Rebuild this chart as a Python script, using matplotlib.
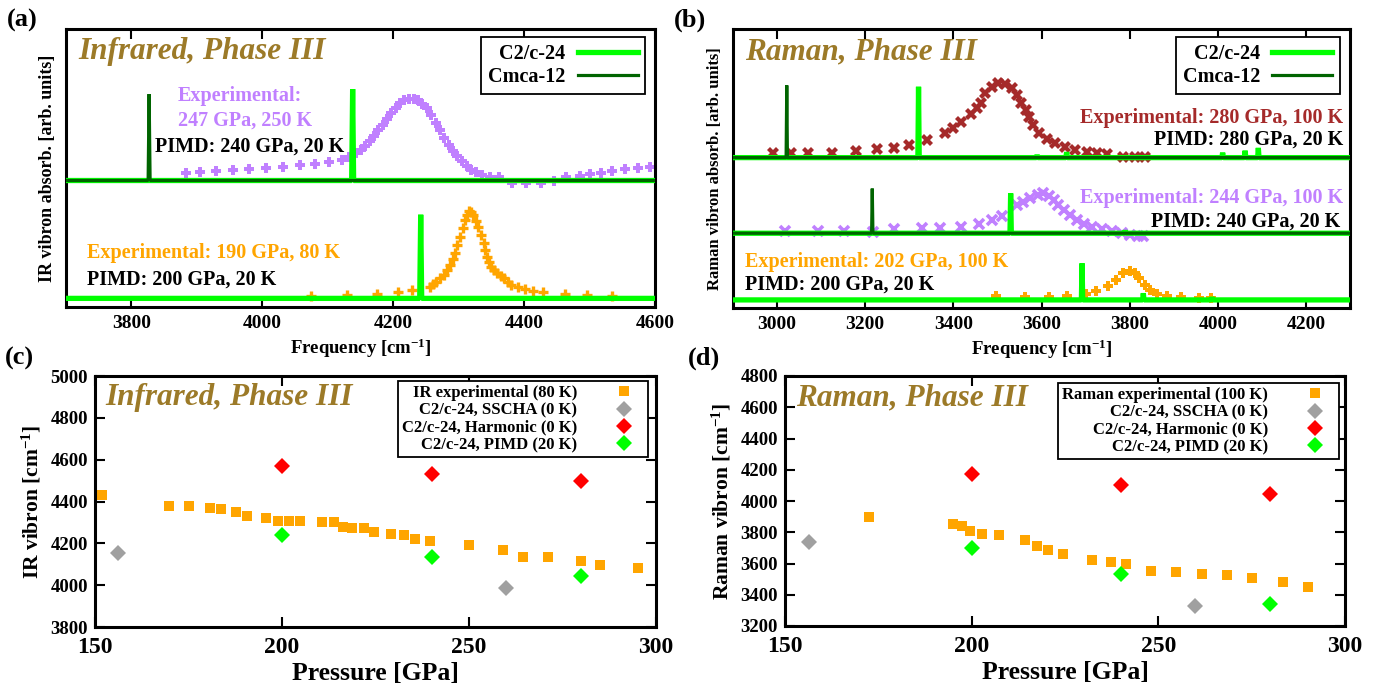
import numpy as np
import matplotlib
matplotlib.use("Agg")
import matplotlib.pyplot as plt

plt.rcParams['font.family'] = ['Liberation Serif', 'DejaVu Serif']
plt.rcParams['font.weight'] = 'bold'
plt.rcParams['axes.labelweight'] = 'bold'
plt.rcParams['mathtext.fontset'] = 'custom'
plt.rcParams['mathtext.rm'] = 'Liberation Serif:bold'
plt.rcParams['mathtext.it'] = 'Liberation Serif:italic:bold'
plt.rcParams['mathtext.default'] = 'rm'

# ---------------- data: spectra (a) IR, (b) Raman ----------------
# peak positions [cm-1] and heights above baseline [arb. units]
a_top_base = 0.455
a_top_c2c_f = [4138]
a_top_c2c_h = [0.329]
a_top_cmca_f = [3827]
a_top_cmca_h = [0.311]
a_bot_base = 0.031
a_bot_c2c_f = [4242]
a_bot_c2c_h = [0.301]

# experimental IR, 247 GPa 250 K
a_exp247_f = [3884, 3904, 3929, 3955, 3980, 4006, 4032, 4057, 4081, 4102, 4121, 4132,
              4143, 4150, 4157, 4164, 4170, 4177, 4184, 4190, 4197, 4204, 4211, 4217,
              4224, 4231, 4238, 4244, 4251, 4258, 4265, 4271, 4278, 4285, 4292, 4298,
              4305, 4312, 4319, 4327, 4336, 4348, 4362, 4382, 4403, 4426, 4445, 4464,
              4485, 4500, 4518, 4535, 4554, 4574, 4593]
a_exp247_y = [0.481, 0.484, 0.489, 0.493, 0.496, 0.500, 0.505, 0.510, 0.516, 0.520, 0.528, 0.540,
              0.554, 0.566, 0.578, 0.596, 0.614, 0.635, 0.656, 0.677, 0.698, 0.716, 0.734, 0.743,
              0.748, 0.747, 0.743, 0.732, 0.716, 0.690, 0.662, 0.635, 0.608, 0.583, 0.560, 0.542,
              0.524, 0.508, 0.494, 0.484, 0.476, 0.468, 0.466, 0.447, 0.445, 0.447, 0.454, 0.466,
              0.472, 0.477, 0.483, 0.490, 0.496, 0.500, 0.502]
# experimental IR, 190 GPa 80 K
a_exp190_f = [4075, 4130, 4175, 4207, 4229, 4256, 4261, 4266, 4271, 4277, 4282, 4287, 4291,
              4294, 4298, 4302, 4306, 4310, 4313, 4316, 4319, 4322, 4326, 4330, 4334, 4338,
              4341, 4344, 4347, 4350, 4354, 4358, 4364, 4369, 4375, 4380, 4391, 4402, 4414,
              4429, 4462, 4496, 4534]
a_exp190_y = [0.040, 0.042, 0.047, 0.054, 0.061, 0.073, 0.082, 0.091, 0.103, 0.115, 0.133, 0.151, 0.172,
              0.193, 0.223, 0.253, 0.283, 0.313, 0.330, 0.346, 0.340, 0.331, 0.310, 0.289, 0.259, 0.229,
              0.205, 0.181, 0.163, 0.145, 0.133, 0.121, 0.112, 0.103, 0.091, 0.079, 0.071, 0.064, 0.059,
              0.054, 0.047, 0.043, 0.041]

b_top_base = 0.539
b_top_c2c_f = [3321, 3590, 3657, 4011, 4062, 4092]
b_top_c2c_h = [0.254, 0.010, 0.020, 0.018, 0.025, 0.035]
b_top_cmca_f = [3022]
b_top_cmca_h = [0.259]
b_mid_base = 0.268
b_mid_c2c_f = [3530, 3790]
b_mid_c2c_h = [0.143, 0.010]
b_mid_cmca_f = [3216]
b_mid_cmca_h = [0.160]
b_bot_base = 0.029
b_bot_c2c_f = [3692, 3831, 3987]
b_bot_c2c_h = [0.131, 0.024, 0.010]

# experimental Raman, 280 GPa 100 K
b_exp280_f = [2990, 3032, 3071, 3125, 3178, 3226, 3266, 3300, 3340, 3381, 3400, 3417, 3439,
              3454, 3462, 3472, 3487, 3502, 3517, 3532, 3545, 3553, 3564, 3572, 3581, 3594,
              3612, 3631, 3653, 3676, 3703, 3725, 3748, 3786, 3812, 3835]
b_exp280_y = [0.554, 0.557, 0.557, 0.557, 0.563, 0.569, 0.573, 0.583, 0.602, 0.626, 0.644, 0.668, 0.694,
              0.716, 0.736, 0.769, 0.793, 0.805, 0.803, 0.787, 0.763, 0.736, 0.710, 0.686, 0.655, 0.627,
              0.607, 0.593, 0.578, 0.566, 0.560, 0.554, 0.552, 0.542, 0.542, 0.542]
# experimental Raman, 244 GPa 100 K
b_exp244_f = [3019, 3092, 3152, 3218, 3266, 3328, 3369, 3418, 3459, 3487, 3510, 3544, 3559,
              3575, 3591, 3604, 3616, 3629, 3638, 3651, 3665, 3681, 3696, 3714, 3737, 3759,
              3782, 3800, 3818, 3831]
b_exp244_y = [0.277, 0.277, 0.277, 0.274, 0.282, 0.286, 0.287, 0.289, 0.300, 0.315, 0.331, 0.369, 0.381,
              0.395, 0.405, 0.411, 0.401, 0.387, 0.369, 0.351, 0.333, 0.315, 0.300, 0.289, 0.282, 0.276,
              0.268, 0.262, 0.258, 0.258]
# experimental Raman, 202 GPa 100 K
b_exp202_f = [3496, 3562, 3618, 3658, 3701, 3723, 3750, 3768, 3784, 3800, 3813, 3822, 3835,
              3846, 3862, 3885, 3916, 3957, 3984]
b_exp202_y = [0.043, 0.041, 0.041, 0.044, 0.050, 0.062, 0.080, 0.100, 0.124, 0.134, 0.124, 0.106, 0.082,
              0.065, 0.050, 0.043, 0.038, 0.037, 0.036]

# ---------------- data: vibron vs pressure (c) IR, (d) Raman ----------------
ir_exp_p = [152.0, 169.8, 175.1, 180.7, 183.8, 187.6, 190.7, 195.8, 198.8, 201.9, 204.9, 210.6,
            214.0, 216.2, 218.8, 221.9, 224.5, 229.2, 232.6, 235.6, 239.6, 250.0, 259.1, 264.4,
            271.2, 279.9, 285.1, 295.1]
ir_exp_f = [4430, 4379, 4379, 4367, 4362, 4351, 4333, 4322, 4309, 4309, 4305, 4300,
            4300, 4277, 4271, 4271, 4255, 4246, 4239, 4222, 4211, 4193, 4166, 4136,
            4136, 4114, 4096, 4080]
ir_sscha_p = [156.1, 259.8]
ir_sscha_f = [4153, 3986]
ir_harm_p = [200, 240, 280]
ir_harm_f = [4570, 4530, 4500]
ir_pimd_p = [200, 240, 280]
ir_pimd_f = [4242, 4137, 4042]

ra_exp_p = [172.4, 195.0, 197.3, 199.5, 202.8, 207.4, 214.2, 217.6, 220.5, 224.5, 232.2, 237.4,
            241.4, 248.1, 254.8, 261.7, 268.4, 275.2, 283.3, 290.0]
ra_exp_f = [3897, 3851, 3838, 3810, 3789, 3780, 3752, 3712, 3688, 3659, 3624, 3612,
            3595, 3554, 3543, 3533, 3524, 3505, 3482, 3452]
ra_sscha_p = [156.5, 259.8]
ra_sscha_f = [3740, 3326]
ra_harm_p = [200, 240, 280]
ra_harm_f = [4175, 4100, 4043]
ra_pimd_p = [200, 240, 280]
ra_pimd_f = [3701, 3531, 3341]

# ---------------- style ----------------
W, H = 1382, 688
GREEN = '#00FF00'
DKGREEN = '#006400'
ORANGE = '#FFA500'
PURPLE = '#C080FF'
BROWN = '#A52A2A'
GRAY = '#A0A0A0'
RED = '#FF0000'
GOLD = '#9C7A28'


def box(l, t, r, b):
    return [l / W, 1 - b / H, (r - l) / W, (b - t) / H]


def ftext(x, y, s, **kw):
    fig.text(x / W, 1 - y / H, s, va='center', **kw)


def spectrum(ax, lo, hi, base, pf, ph, color, lw, label=None):
    f, y = [lo], [base]
    for p, h in sorted(zip(pf, ph)):
        f += [p - 1.5, p, p + 1.5]
        y += [base, base + h, base]
    f.append(hi)
    y.append(base)
    ax.plot(f, y, color=color, lw=lw, solid_joinstyle='bevel', label=label, zorder=3)


def frame(ax, lw=2.2):
    for s in ax.spines.values():
        s.set_linewidth(lw)
    ax.tick_params(direction='in', top=True, right=True, width=1.5, length=7)


def bold_ticks(ax):
    for t in ax.get_xticklabels() + ax.get_yticklabels():
        t.set_fontweight('bold')


def legend(ax, anchor, fs, hl, ls, bp, htp):
    leg = ax.legend(loc='upper right', bbox_to_anchor=anchor, borderaxespad=0,
                    markerfirst=False, fancybox=False, edgecolor='black', framealpha=1,
                    fontsize=fs, handlelength=hl, labelspacing=ls, borderpad=bp,
                    handletextpad=htp, prop={'weight': 'bold', 'size': fs})
    leg.get_frame().set_linewidth(1.3)
    return leg


fig = plt.figure(figsize=(W / 100, H / 100), dpi=100)

GLW, DLW = 3.8, 2.3

# ---- (a) ----
ax = fig.add_axes(box(66, 29, 655, 307))
lo, hi = 3700, 4600
spectrum(ax, lo, hi, a_top_base, a_top_c2c_f, a_top_c2c_h, GREEN, GLW, 'C2/c-24')
spectrum(ax, lo, hi, a_top_base, a_top_cmca_f, a_top_cmca_h, DKGREEN, DLW, 'Cmca-12')
spectrum(ax, lo, hi, a_bot_base, a_bot_c2c_f, a_bot_c2c_h, GREEN, GLW)
ax.plot(a_exp247_f, a_exp247_y, 'P', color=PURPLE, ms=7.5, mew=0, zorder=2)
ax.plot(a_exp190_f, a_exp190_y, '+', color=ORANGE, ms=7, mew=2.4, zorder=2)
ax.set_xlim(lo, hi)
ax.set_ylim(0, 1)
ax.set_yticks([])
ax.set_xticks([3800, 4000, 4200, 4400, 4600])
frame(ax)
ax.tick_params(axis='x', labelsize=14, pad=6)
bold_ticks(ax)
ax.set_xlabel('Frequency [cm$^{-1}$]', fontsize=13.5, labelpad=3)
ax.set_ylabel('IR vibron absorb. [arb. units]', fontsize=13, labelpad=7)
legend(ax, (0.983, 0.971), 14.5, 3.0, 0.15, 0.35, 0.6)

# ---- (b) ----
bx = fig.add_axes(box(733, 29, 1350, 308))
lo, hi = 2900, 4300
spectrum(bx, lo, hi, b_top_base, b_top_c2c_f, b_top_c2c_h, GREEN, GLW, 'C2/c-24')
spectrum(bx, lo, hi, b_top_base, b_top_cmca_f, b_top_cmca_h, DKGREEN, DLW, 'Cmca-12')
spectrum(bx, lo, hi, b_mid_base, b_mid_c2c_f, b_mid_c2c_h, GREEN, GLW)
spectrum(bx, lo, hi, b_mid_base, b_mid_cmca_f, b_mid_cmca_h, DKGREEN, DLW)
spectrum(bx, lo, hi, b_bot_base, b_bot_c2c_f, b_bot_c2c_h, GREEN, GLW)
bx.plot(b_exp280_f, b_exp280_y, 'X', color=BROWN, ms=9, mew=0, zorder=2)
bx.plot(b_exp244_f, b_exp244_y, 'x', color=PURPLE, ms=6.5, mew=2.6, zorder=2)
bx.plot(b_exp202_f, b_exp202_y, 'P', color=ORANGE, ms=6.5, mew=0, zorder=2)
bx.set_xlim(lo, hi)
bx.set_ylim(0, 1)
bx.set_yticks([])
bx.set_xticks([3000, 3200, 3400, 3600, 3800, 4000, 4200])
frame(bx)
bx.tick_params(axis='x', labelsize=14, pad=6)
bold_ticks(bx)
bx.set_xlabel('Frequency [cm$^{-1}$]', fontsize=13.5, labelpad=3)
bx.set_ylabel('Raman vibron absorb. [arb. units]', fontsize=12, labelpad=7)
legend(bx, (0.983, 0.971), 14.5, 3.0, 0.15, 0.35, 0.6)

# ---- (c) ----
cx = fig.add_axes(box(95, 376, 656, 627))
cx.plot(ir_exp_p, ir_exp_f, 's', color=ORANGE, ms=7, mew=0, label='IR experimental (80 K)')
cx.plot(ir_sscha_p, ir_sscha_f, 'D', color=GRAY, ms=8, mew=0, label='C2/c-24, SSCHA (0 K)')
cx.plot(ir_harm_p, ir_harm_f, 'D', color=RED, ms=8, mew=0, label='C2/c-24, Harmonic (0 K)')
cx.plot(ir_pimd_p, ir_pimd_f, 'D', color=GREEN, ms=8, mew=0, label='C2/c-24, PIMD (20 K)')
cx.set_xlim(150, 300)
cx.set_ylim(3800, 5000)
cx.set_xticks([150, 200, 250, 300])
cx.set_yticks(np.arange(3800, 5001, 200))
frame(cx)
cx.tick_params(axis='x', labelsize=17, pad=7)
cx.tick_params(axis='y', labelsize=13.5, pad=5)
bold_ticks(cx)
cx.set_xlabel('Pressure [GPa]', fontsize=18.5, labelpad=3)
cx.set_ylabel('IR vibron [cm$^{-1}$]', fontsize=15.5, labelpad=5)
legend(cx, (0.986, 0.98), 12, 2.4, 0.08, 0.25, 1.6)

# ---- (d) ----
dx = fig.add_axes(box(785, 376, 1345, 626))
dx.plot(ra_exp_p, ra_exp_f, 's', color=ORANGE, ms=7, mew=0, label='Raman experimental (100 K)')
dx.plot(ra_sscha_p, ra_sscha_f, 'D', color=GRAY, ms=8, mew=0, label='C2/c-24, SSCHA (0 K)')
dx.plot(ra_harm_p, ra_harm_f, 'D', color=RED, ms=8, mew=0, label='C2/c-24, Harmonic (0 K)')
dx.plot(ra_pimd_p, ra_pimd_f, 'D', color=GREEN, ms=8, mew=0, label='C2/c-24, PIMD (20 K)')
dx.set_xlim(150, 300)
dx.set_ylim(3200, 4800)
dx.set_xticks([150, 200, 250, 300])
dx.set_yticks(np.arange(3200, 4801, 200))
frame(dx)
dx.tick_params(axis='x', labelsize=17, pad=7)
dx.tick_params(axis='y', labelsize=13.5, pad=5)
bold_ticks(dx)
dx.set_xlabel('Pressure [GPa]', fontsize=18.5, labelpad=3)
dx.set_ylabel('Raman vibron [cm$^{-1}$]', fontsize=15.5, labelpad=5)
legend(dx, (0.989, 0.972), 12, 2.4, 0.08, 0.25, 1.6)

# ---- annotations ----
tkw = dict(fontsize=22.5, style='italic', weight='bold', color=GOLD)
ftext(78, 52, 'Infrared, Phase III', **tkw)
ftext(745, 52, 'Raman, Phase III', **tkw)
ftext(105, 397, 'Infrared, Phase III', **tkw)
ftext(796, 398, 'Raman, Phase III', **tkw)

ftext(7, 20, '(a)', fontsize=19, weight='bold')
ftext(674, 20, '(b)', fontsize=19, weight='bold')
ftext(5, 358, '(c)', fontsize=19, weight='bold')
ftext(688, 358, '(d)', fontsize=19, weight='bold')

skw = dict(fontsize=14.5, weight='bold')
ftext(178, 96, 'Experimental:', color=PURPLE, **skw)
ftext(178, 121, '247 GPa, 250 K', color=PURPLE, **skw)
ftext(155, 147, 'PIMD: 240 GPa, 20 K', color='black', **skw)
ftext(87, 253, 'Experimental: 190 GPa, 80 K', color=ORANGE, **skw)
ftext(87, 280, 'PIMD: 200 GPa, 20 K', color='black', **skw)

ftext(1343, 118, 'Experimental: 280 GPa, 100 K', color=BROWN, ha='right', **skw)
ftext(1343, 140, 'PIMD: 280 GPa, 20 K', color='black', ha='right', **skw)
ftext(1343, 198, 'Experimental: 244 GPa, 100 K', color=PURPLE, ha='right', **skw)
ftext(1340, 222, 'PIMD: 240 GPa, 20 K', color='black', ha='right', **skw)
ftext(745, 262, 'Experimental: 202 GPa, 100 K', color=ORANGE, **skw)
ftext(745, 285, 'PIMD: 200 GPa, 20 K', color='black', **skw)

fig.savefig('out.png', dpi=100)
